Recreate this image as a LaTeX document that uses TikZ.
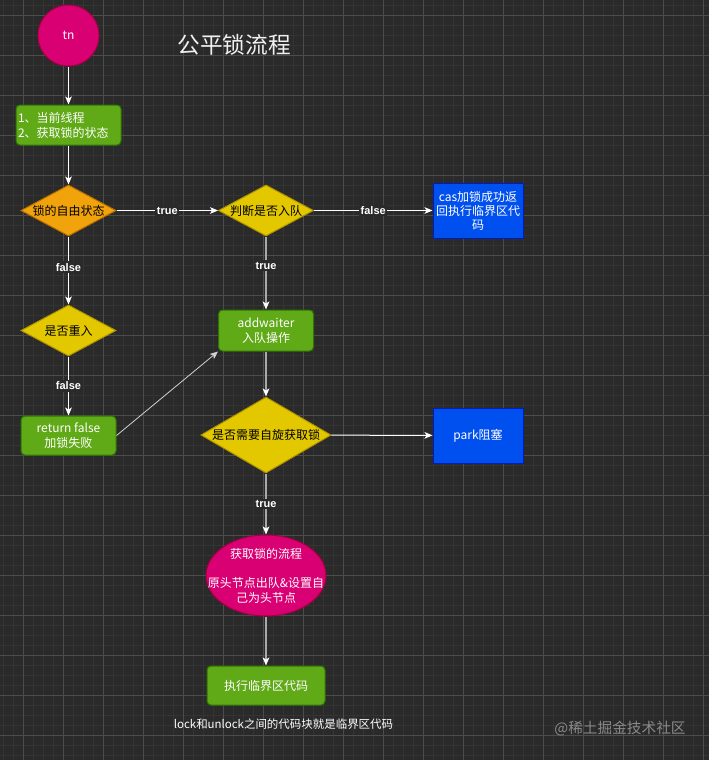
\documentclass[tikz,border=0pt]{standalone}
\usepackage{fontspec}
\setmainfont{Noto Sans CJK SC}
\newfontfamily\labfont{Liberation Sans}
\usetikzlibrary{shapes.geometric,arrows.meta}
\definecolor{bg}{HTML}{2A2A2A}
\definecolor{gminor}{HTML}{343434}
\definecolor{gmajor}{HTML}{4C4C4C}
\definecolor{pinkf}{HTML}{D80073}
\definecolor{pinkd}{HTML}{A50040}
\definecolor{greenf}{HTML}{60A917}
\definecolor{greend}{HTML}{2D7600}
\definecolor{orangef}{HTML}{F0A30A}
\definecolor{oranged}{HTML}{BD7000}
\definecolor{yellowf}{HTML}{E3C800}
\definecolor{yellowd}{HTML}{B09500}
\definecolor{bluef}{HTML}{0050EF}
\definecolor{blued}{HTML}{001DBC}
\definecolor{greyline}{HTML}{A8A8A8}
\definecolor{thinline}{HTML}{D0D0D0}
\definecolor{wm}{HTML}{8A8A8A}
\begin{document}
\begin{tikzpicture}[x=0.75pt,y=-0.75pt,
  txt/.style={font=\fontsize{9}{11}\selectfont},
  greenbox/.style={draw=greend,fill=greenf,line width=0.75pt,rounded corners=3pt,text=white,align=center,inner sep=0pt,txt},
  bluebox/.style={draw=blued,fill=bluef,line width=0.75pt,text=white,align=center,inner sep=0pt,txt},
  ydiam/.style={diamond,draw=yellowd,fill=yellowf,line width=0.75pt,inner sep=0pt},
  odiam/.style={diamond,draw=oranged,fill=orangef,line width=0.75pt,inner sep=0pt},
  dtext/.style={txt,text=black,inner sep=0pt},
  wline/.style={draw=white,line width=0.75pt,-{Stealth[length=6pt,width=5pt,inset=1.5pt]}},
  gline/.style={draw=greyline,line width=1.4pt,-{Stealth[length=6pt,width=5pt,inset=1.5pt,color=white,fill=white]}},
  tline/.style={draw=thinline,line width=0.6pt,-{Stealth[length=6pt,width=5pt,inset=1.5pt]}},
  lbl/.style={fill=bg,text=white,font=\labfont\bfseries\fontsize{8.25}{9}\selectfont,inner sep=1.2pt}
]
\useasboundingbox (0,0) rectangle (709,760);
\fill[bg] (0,0) rectangle (709,760);
\foreach \x in {3,13,...,703} \draw[gminor,line width=0.75pt] (\x,0) -- (\x,760);
\foreach \y in {5,15,...,755} \draw[gminor,line width=0.75pt] (0,\y) -- (709,\y);
\foreach \x in {23,63,...,703} \draw[gmajor,line width=0.75pt] (\x,0) -- (\x,760);
\foreach \y in {15,55,...,735} \draw[gmajor,line width=0.75pt] (0,\y) -- (709,\y);

% nodes
\node[circle,draw=pinkd,fill=pinkf,line width=0.75pt,minimum size=45.75pt,inner sep=0pt,text=white,txt] (tn) at (68.5,35.5) {tn};
\node[text=white!94!black,font=\fontsize{17}{20}\selectfont] (title) at (234,45) {公平锁流程};
\node[greenbox,align=left,text width=75.75pt,inner xsep=1.5pt,minimum height=30pt,font=\fontsize{9}{11.25}\selectfont] (b1) at (68.5,125) {1、当前线程\\2、获取锁的状态};
\node[odiam,minimum width=71.25pt,minimum height=38.25pt,label={[dtext]center:锁的自由状态}] (d1) at (68.5,210.5) {};
\node[ydiam,minimum width=71.25pt,minimum height=38.25pt,label={[dtext]center:判断是否入队}] (d2) at (266,210.5) {};
\node[bluebox,minimum width=67.5pt,minimum height=41.25pt,font=\fontsize{9}{10.5}\selectfont] (cas) at (478,210.5) {cas加锁成功返\\回执行临界区代\\码};
\node[ydiam,minimum width=71.25pt,minimum height=38.25pt,label={[dtext]center:是否重入}] (d3) at (68.5,330.5) {};
\node[greenbox,minimum width=71.25pt,minimum height=30.75pt,font=\fontsize{9}{11.25}\selectfont] (aw) at (266,330.5) {addwaiter\\入队操作};
\node[greenbox,minimum width=71.25pt,minimum height=29.25pt,font=\fontsize{9}{11.25}\selectfont] (ret) at (68.5,435.5) {return false\\加锁失败};
\node[ydiam,minimum width=97.5pt,minimum height=57pt,label={[dtext]center:是否需要自旋获取锁}] (d4) at (266,435) {};
\node[bluebox,minimum width=67.5pt,minimum height=41.25pt] (park) at (478,435.5) {park阻塞};
\node[ellipse,draw=pinkd,fill=pinkf,line width=0.75pt,minimum width=90pt,minimum height=60.75pt,inner sep=0pt,
  label={[txt,text=white,align=center,inner sep=0pt,font=\fontsize{9}{11}\selectfont]center:获取锁的流程\\[11pt]原头节点出队\&设置自\\己为头节点}] (el) at (266,575.5) {};
\node[greenbox,minimum width=88.5pt,minimum height=29.25pt] (ex) at (266,685.5) {执行临界区代码};
\node[text=white,font=\fontsize{8.6}{10}\selectfont] (note) at (283.5,724) {lock和unlock之间的代码块就是临界区代码};
\node[text=wm,font=\fontsize{11}{13}\selectfont] (wmk) at (620,729) {@稀土掘金技术社区};

% edges
\draw[wline] (tn) -- (b1);
\draw[wline] (b1) -- (d1);
\draw[wline] (d1) -- node[lbl]{true} (d2);
\draw[wline] (d2) -- node[lbl]{false} (cas);
\draw[wline] (d1) -- node[lbl,pos=0.45]{false} (d3);
\draw[gline] (d2) -- node[lbl,pos=0.4]{true} (aw);
\draw[wline] (d3) -- node[lbl]{false} (ret);
\draw[tline] (ret.east) -- (aw.south west);
\draw[gline] (aw) -- (d4);
\draw[wline] (d4) -- (park);
\draw[gline] (d4) -- node[lbl]{true} (el);
\draw[gline] (el) -- (ex);
\end{tikzpicture}
\end{document}
